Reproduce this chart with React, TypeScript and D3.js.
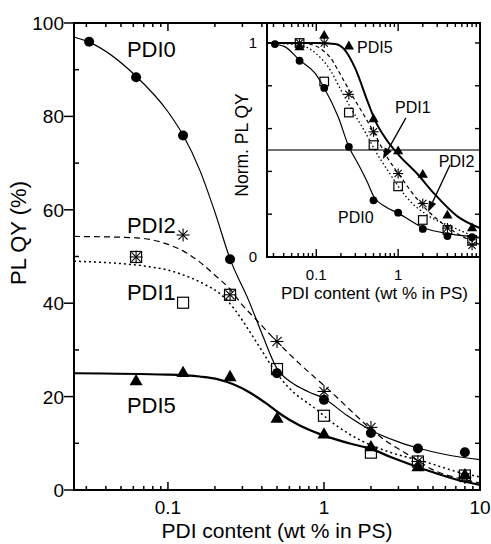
import React from 'react';
import * as d3 from 'd3';

const W = 491;
const H = 544;
const FONT = '"Liberation Sans", Arial, Helvetica, sans-serif';

// PDI loading in PS (wt %)
const conc = [0.03125, 0.0625, 0.125, 0.25, 0.5, 1, 2, 4, 8];
const concB = [0.0625, 0.125, 0.25, 0.5, 1, 2, 4, 8];

// absolute PL quantum yield (%)
const qyPDI0 = [96, 88.4, 75.9, 49.4, 25.0, 19.3, 12.2, 8.9, 8.1];
const qyPDI1 = [49.9, 40.1, 41.8, 25.9, 15.9, 8.0, 6.1, 3.1];
const qyPDI2 = [49.9, 54.6, 41.8, 31.8, 21.1, 13.4, 6.1, 2.7];
const qyPDI5 = [23.0, 24.8, 23.9, 15.0, 11.6, 8.9, 4.6, 2.9];

// fitted curves (x in wt %, y in %)
const fitPDI0X = [0.025, 0.03125, 0.0625, 0.1, 0.125, 0.16, 0.2, 0.25, 0.33, 0.4, 0.5, 0.62, 0.8, 1, 1.4, 2, 3, 4, 6, 10];
const fitPDI0Y = [97, 95.9, 88.6, 81, 76, 68.5, 59.5, 49.5, 40.5, 33.5, 26, 23, 21, 19.6, 16, 12.8, 10.3, 9, 7.6, 6.5];
const fitPDI2X = [0.025, 0.0625, 0.1, 0.125, 0.16, 0.2, 0.25, 0.3, 0.37, 0.46, 0.7, 1.07, 1.6, 2, 2.5, 3.3, 4, 4.8, 6, 8, 10];
const fitPDI2Y = [54.3, 54, 52.6, 51.2, 48.8, 46, 43, 39.6, 36.4, 33, 27, 21.5, 16, 13, 10.5, 8, 6.3, 4.6, 3.3, 2.2, 1.5];
const fitPDI1X = [0.025, 0.076, 0.1, 0.136, 0.175, 0.22, 0.27, 0.33, 0.4, 0.48, 0.6, 0.89, 1.2, 1.75, 2.7, 4.5, 7.3, 10];
const fitPDI1Y = [49, 47.8, 47.1, 45.6, 43.9, 41.8, 38.5, 34.2, 29.8, 25.7, 21.8, 17.3, 13.8, 10.5, 8, 6, 3.8, 2.8];
const fitPDI5X = [0.025, 0.1, 0.16, 0.21, 0.26, 0.33, 0.42, 0.54, 0.69, 0.97, 1.45, 2, 2.7, 4.5, 7.3, 10];
const fitPDI5Y = [25, 24.7, 24.3, 23.7, 22.7, 21.0, 18.7, 16, 13.9, 11.8, 10, 8.8, 7, 4.3, 2.1, 1.1];

// normalized PL QY (inset)
const nPDI0 = [0.995, 0.917, 0.79, 0.515, 0.265, 0.207, 0.131, 0.098, 0.093];
const nPDI1 = [1.0, 0.82, 0.675, 0.523, 0.33, 0.173, 0.126, 0.08];
const nPDI2 = [1.0, 1.0, 0.76, 0.585, 0.39, 0.25, 0.135, 0.055];
const nPDI5 = [0.976, 1.03, 0.98, 0.64, 0.49, 0.38, 0.19, 0.13];

const nFit0X = [0.025, 0.041, 0.0625, 0.096, 0.125, 0.185, 0.25, 0.33, 0.42, 0.5, 0.7, 1, 2, 4.3, 10];
const nFit0Y = [1.0, 0.983, 0.92, 0.86, 0.79, 0.655, 0.515, 0.43, 0.35, 0.285, 0.235, 0.205, 0.138, 0.108, 0.092];
const nFit5X = [0.025, 0.1, 0.17, 0.22, 0.3, 0.43, 0.52, 0.7, 1, 1.7, 2.7, 5.3, 10];
const nFit5Y = [1.0, 1.0, 0.995, 0.97, 0.88, 0.72, 0.64, 0.555, 0.48, 0.39, 0.3, 0.19, 0.135];
const nFit2X = [0.025, 0.0625, 0.1, 0.125, 0.15, 0.18, 0.22, 0.27, 0.4, 0.5, 0.7, 1.14, 2, 4, 9, 10];
const nFit2Y = [1.0, 1.0, 0.985, 0.96, 0.93, 0.88, 0.82, 0.76, 0.65, 0.585, 0.48, 0.36, 0.24, 0.14, 0.065, 0.058];
const nFit1X = [0.025, 0.0625, 0.1, 0.15, 0.2, 0.27, 0.4, 0.52, 0.79, 1.26, 2.4, 4.6, 10];
const nFit1Y = [1.0, 0.99, 0.95, 0.87, 0.78, 0.69, 0.58, 0.5, 0.39, 0.28, 0.19, 0.14, 0.085];

const halfLevel = 0.5;

// axis ticks
const xMajor = [0.1, 1, 10];
const xMinor = [0.03, 0.04, 0.05, 0.06, 0.07, 0.08, 0.09, 0.2, 0.3, 0.4, 0.5, 0.6, 0.7, 0.8, 0.9, 2, 3, 4, 5, 6, 7, 8, 9];
const xLabels = ['0.1', '1', '10'];
const yMajor = [0, 20, 40, 60, 80, 100];
const yMinor = [10, 30, 50, 70, 90];
const yRight = [10, 20, 30, 40, 50, 60, 70, 80, 90];
const insetXMajor = [0.1, 1];
const insetXLabels = ['0.1', '1'];
const insetYTicks = [0.2, 0.4, 0.6, 0.8, 1.0];

// series name labels (data coordinates of the text anchor)
const mainLabels = [
  { text: 'PDI0', x: 0.0546, y: 92.7 },
  { text: 'PDI2', x: 0.0546, y: 55.0 },
  { text: 'PDI1', x: 0.0546, y: 40.7 },
  { text: 'PDI5', x: 0.0546, y: 16.5 },
];
const insetLabels = [
  { text: 'PDI5', x: 0.315, y: 0.953 },
  { text: 'PDI1', x: 0.915, y: 0.673 },
  { text: 'PDI2', x: 3.14, y: 0.42 },
  { text: 'PDI0', x: 0.184, y: 0.159 },
];
const insetArrows = [
  { x1: 1.245, y1: 0.65, x2: 0.65, y2: 0.458 },
  { x1: 4.3, y1: 0.43, x2: 2.31, y2: 0.21 },
];

const M = { left: 74, right: 480, top: 23, bottom: 490 };
const I = { left: 267, right: 480, top: 23, bottom: 257 };

const x = d3.scaleLog().domain([0.025, 10]).range([M.left, M.right]);
const y = d3.scaleLinear().domain([0, 100]).range([M.bottom, M.top]);
const ix = d3.scaleLog().domain([0.025, 10]).range([I.left, I.right]);
const iy = d3.scaleLinear().domain([0, 1]).range([I.bottom, 43]);

function curvePath(xs: number[], ys: number[], sx: any, sy: any) {
  const line = d3
    .line<number>()
    .x((_, i) => sx(xs[i]))
    .y((_, i) => sy(ys[i]))
    .curve(d3.curveMonotoneX);
  return line(ys) || '';
}

function Asterisk({ cx, cy, r, sw }: { cx: number; cy: number; r: number; sw: number }) {
  const a = r * Math.SQRT1_2;
  return (
    <g stroke="#000" strokeWidth={sw}>
      <line x1={cx - r} y1={cy} x2={cx + r} y2={cy} />
      <line x1={cx} y1={cy - r} x2={cx} y2={cy + r} />
      <line x1={cx - a} y1={cy - a} x2={cx + a} y2={cy + a} />
      <line x1={cx - a} y1={cy + a} x2={cx + a} y2={cy - a} />
    </g>
  );
}

function Markers({
  sx, sy, scale,
}: { sx: any; sy: any; scale: number }) {
  const isMain = scale === 1;
  const d0 = isMain ? qyPDI0 : nPDI0;
  const d1 = isMain ? qyPDI1 : nPDI1;
  const d2 = isMain ? qyPDI2 : nPDI2;
  const d5 = isMain ? qyPDI5 : nPDI5;
  const tri = d3.symbol(d3.symbolTriangle, 74 * scale * scale)() || '';
  const sq = 11 * scale;
  return (
    <g>
      {d5.map((v, i) => (
        <path key={'t' + i} d={tri} transform={`translate(${sx(concB[i])},${sy(v) - 1 * scale})`} fill="#000" />
      ))}
      {d1.map((v, i) => (
        <rect key={'s' + i} x={sx(concB[i]) - sq / 2} y={sy(v) - sq / 2} width={sq} height={sq} fill="none" stroke="#000" strokeWidth={1.2} />
      ))}
      {d2.map((v, i) => (
        <Asterisk key={'a' + i} cx={sx(concB[i])} cy={sy(v)} r={6.5 * scale} sw={1.1} />
      ))}
      {d0.map((v, i) => (
        <circle key={'c' + i} cx={sx(conc[i])} cy={sy(v)} r={5 * scale} fill="#000" />
      ))}
    </g>
  );
}

function Arrow({ x1, y1, x2, y2 }: { x1: number; y1: number; x2: number; y2: number }) {
  const ang = Math.atan2(y2 - y1, x2 - x1);
  const len = 11;
  const w = 4;
  const bx = x2 - len * Math.cos(ang);
  const by = y2 - len * Math.sin(ang);
  const px = -Math.sin(ang) * w;
  const py = Math.cos(ang) * w;
  return (
    <g>
      <line x1={x1} y1={y1} x2={bx} y2={by} stroke="#000" strokeWidth={1.3} />
      <path d={`M${x2},${y2}L${bx + px},${by + py}L${bx - px},${by - py}Z`} fill="#000" />
    </g>
  );
}

export default function App() {
  return (
    <svg
      width={W}
      height={H}
      style={{ position: 'absolute', left: 0, top: 0, background: '#fff' }}
      fontFamily={FONT}
    >
      <rect width={W} height={H} fill="#fff" />

      {/* main plot curves */}
      <g fill="none" stroke="#000">
        <path d={curvePath(fitPDI0X, fitPDI0Y, x, y)} strokeWidth={1.2} />
        <path d={curvePath(fitPDI2X, fitPDI2Y, x, y)} strokeWidth={1.2} strokeDasharray="6,4" />
        <path d={curvePath(fitPDI1X, fitPDI1Y, x, y)} strokeWidth={1.5} strokeDasharray="2,3" />
        <path d={curvePath(fitPDI5X, fitPDI5Y, x, y)} strokeWidth={2.2} />
      </g>
      <Markers sx={x} sy={y} scale={1} />

      {/* main axes */}
      <g stroke="#000" strokeWidth={1.5}>
        {yMajor.map((v) => (
          <line key={'ym' + v} x1={M.left - 10} x2={M.left} y1={y(v)} y2={y(v)} />
        ))}
        {yMinor.map((v) => (
          <line key={'yn' + v} x1={M.left} x2={M.left + 5} y1={y(v)} y2={y(v)} />
        ))}
        {yRight.map((v) => (
          <line key={'yr' + v} x1={M.right - 5} x2={M.right} y1={y(v)} y2={y(v)} />
        ))}
        {xMajor.map((v) => (
          <g key={'xm' + v}>
            <line x1={x(v)} x2={x(v)} y1={M.bottom} y2={M.bottom - 8} />
            <line x1={x(v)} x2={x(v)} y1={M.top} y2={M.top + 8} />
          </g>
        ))}
        {xMinor.map((v) => (
          <g key={'xn' + v}>
            <line x1={x(v)} x2={x(v)} y1={M.bottom} y2={M.bottom - 4} />
            <line x1={x(v)} x2={x(v)} y1={M.top} y2={M.top + 4} />
          </g>
        ))}
      </g>
      <rect x={M.left} y={M.top} width={M.right - M.left} height={M.bottom - M.top} fill="none" stroke="#000" strokeWidth={2} />

      <g fontSize={19} fill="#000">
        {yMajor.map((v) => (
          <text key={'yl' + v} x={M.left - 10} y={y(v) + 7} textAnchor="end">{v}</text>
        ))}
        {xMajor.map((v, i) => (
          <text key={'xl' + v} x={x(v)} y={514} textAnchor="middle">{xLabels[i]}</text>
        ))}
      </g>
      <text x={(M.left + M.right) / 2} y={538} fontSize={21} textAnchor="middle">PDI content (wt % in PS)</text>
      <text transform="translate(26,233) rotate(-90)" fontSize={22} textAnchor="middle">PL QY (%)</text>

      <g fontSize={22}>
        {mainLabels.map((l) => (
          <text key={l.text} x={x(l.x)} y={y(l.y)}>{l.text}</text>
        ))}
      </g>

      {/* inset: normalized PL QY */}
      <rect x={I.left} y={I.top} width={I.right - I.left} height={I.bottom - I.top} fill="#fff" />
      <line x1={I.left} x2={I.right} y1={iy(halfLevel)} y2={iy(halfLevel)} stroke="#444" strokeWidth={1.6} />
      <g fill="none" stroke="#000">
        <path d={curvePath(nFit0X, nFit0Y, ix, iy)} strokeWidth={1.2} />
        <path d={curvePath(nFit2X, nFit2Y, ix, iy)} strokeWidth={1.2} strokeDasharray="4,3" />
        <path d={curvePath(nFit1X, nFit1Y, ix, iy)} strokeWidth={1.3} strokeDasharray="1.5,2.5" />
        <path d={curvePath(nFit5X, nFit5Y, ix, iy)} strokeWidth={2} />
      </g>
      <Markers sx={ix} sy={iy} scale={0.78} />

      <g stroke="#000" strokeWidth={1.4}>
        {insetYTicks.map((v) => (
          <g key={'iy' + v}>
            <line x1={I.left} x2={I.left + 5} y1={iy(v)} y2={iy(v)} />
            <line x1={I.right - 5} x2={I.right} y1={iy(v)} y2={iy(v)} />
          </g>
        ))}
        {insetXMajor.map((v) => (
          <g key={'ixm' + v}>
            <line x1={ix(v)} x2={ix(v)} y1={I.bottom} y2={I.bottom - 8} />
            <line x1={ix(v)} x2={ix(v)} y1={I.top} y2={I.top + 8} />
          </g>
        ))}
        {xMinor.map((v) => (
          <g key={'ixn' + v}>
            <line x1={ix(v)} x2={ix(v)} y1={I.bottom} y2={I.bottom - 4} />
            <line x1={ix(v)} x2={ix(v)} y1={I.top} y2={I.top + 4} />
          </g>
        ))}
      </g>
      <rect x={I.left} y={I.top} width={I.right - I.left} height={I.bottom - I.top} fill="none" stroke="#000" strokeWidth={2} />

      <g fontSize={15}>
        <text x={I.left - 10} y={iy(1) + 5} textAnchor="end">1</text>
        <text x={I.left - 10} y={iy(0) + 5} textAnchor="end">0</text>
        {insetXMajor.map((v, i) => (
          <text key={'ixl' + v} x={ix(v)} y={280} textAnchor="middle">{insetXLabels[i]}</text>
        ))}
      </g>
      <text x={(I.left + I.right) / 2 + 1} y={299} fontSize={17} textAnchor="middle">PDI content (wt % in PS)</text>
      <text transform={`translate(248,${(I.top + I.bottom) / 2 + 5}) rotate(-90)`} fontSize={17.5} textAnchor="middle">Norm. PL QY</text>

      <g fontSize={16}>
        {insetLabels.map((l) => (
          <text key={'il' + l.text} x={ix(l.x)} y={iy(l.y)}>{l.text}</text>
        ))}
      </g>
      {insetArrows.map((a, i) => (
        <Arrow key={'ar' + i} x1={ix(a.x1)} y1={iy(a.y1)} x2={ix(a.x2)} y2={iy(a.y2)} />
      ))}
    </svg>
  );
}
